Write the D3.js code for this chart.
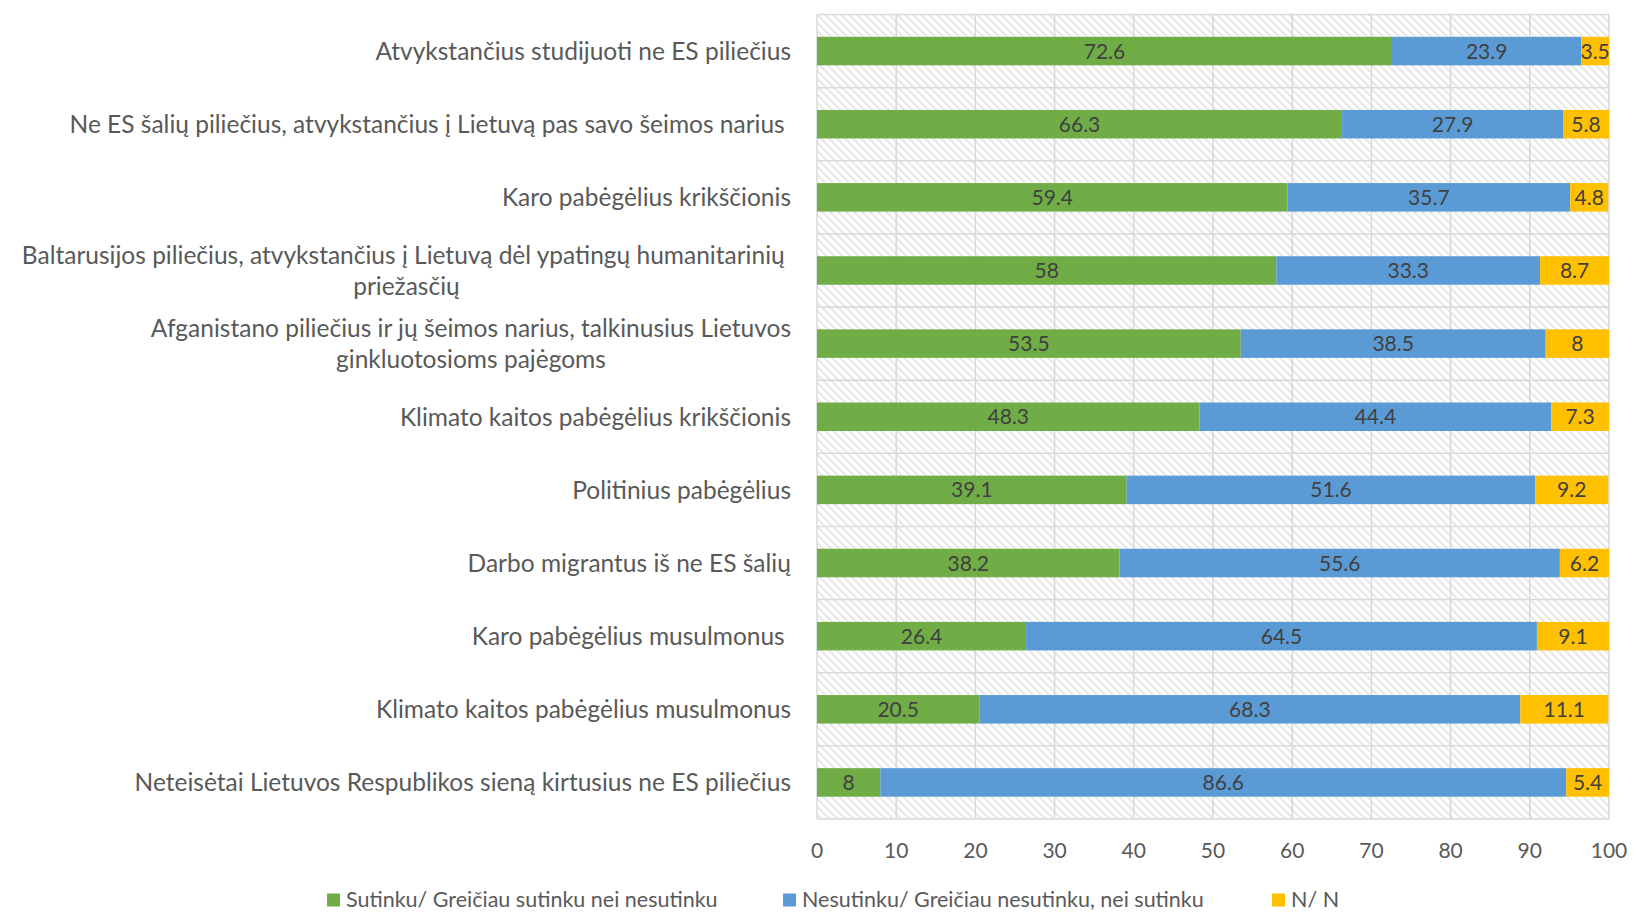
<!DOCTYPE html>
<html>
<head>
<meta charset="utf-8">
<script src="https://cdn.jsdelivr.net/npm/d3@7"></script>
<style>
  body { margin: 0; background: #fff; }
  svg text { font-family: Lato, "Open Sans", sans-serif; }
</style>
</head>
<body>
<div id="chart"></div>
<script>
// categories, top to bottom ("\n" = line break in label)
var categories = [
  "Atvykstančius studijuoti ne ES piliečius",
  "Ne ES šalių piliečius, atvykstančius į Lietuvą pas savo šeimos narius ",
  "Karo pabėgėlius krikščionis",
  "Baltarusijos piliečius, atvykstančius į Lietuvą dėl ypatingų humanitarinių \npriežasčių",
  "Afganistano piliečius ir jų šeimos narius, talkinusius Lietuvos\nginkluotosioms pajėgoms",
  "Klimato kaitos pabėgėlius krikščionis",
  "Politinius pabėgėlius",
  "Darbo migrantus iš ne ES šalių",
  "Karo pabėgėlius musulmonus ",
  "Klimato kaitos pabėgėlius musulmonus",
  "Neteisėtai Lietuvos Respublikos sieną kirtusius ne ES piliečius"
];
var agree    = [72.6, 66.3, 59.4, 58, 53.5, 48.3, 39.1, 38.2, 26.4, 20.5, 8];
var disagree = [23.9, 27.9, 35.7, 33.3, 38.5, 44.4, 51.6, 55.6, 64.5, 68.3, 86.6];
var noAnswer = [3.5, 5.8, 4.8, 8.7, 8, 7.3, 9.2, 6.2, 9.1, 11.1, 5.4];

var seriesNames = ["Sutinku/ Greičiau sutinku nei nesutinku",
                   "Nesutinku/ Greičiau nesutinku, nei sutinku",
                   "N/ N"];
var seriesColors = ["#70AD47", "#5B9BD5", "#FFC000"];
var xTicks = [0, 10, 20, 30, 40, 50, 60, 70, 80, 90, 100];

// boilerplate
var W = 1633, H = 914;
var margin = { top: 14.5, right: 24, bottom: 95, left: 817 };
var width = W - margin.left - margin.right,
    height = H - margin.top - margin.bottom;

var svg = d3.select("#chart").append("svg")
  .attr("width", W).attr("height", H);

// hatch pattern for plot background
var defs = svg.append("defs");
var pat = defs.append("pattern")
  .attr("id", "hatch")
  .attr("patternUnits", "userSpaceOnUse")
  .attr("width", 8).attr("height", 8);
pat.append("rect").attr("width", 8).attr("height", 8).attr("fill", "#fff");
pat.append("path")
  .attr("d", "M-2,-2 L10,10 M-2,6 L2,10 M6,-2 L10,2")
  .attr("stroke", "#e3e3e3").attr("stroke-width", 1.8);

var g = svg.append("g")
  .attr("transform", "translate(" + margin.left + "," + margin.top + ")");

var table = categories.map(function(c, i) {
  return { cat: c, vals: [agree[i], disagree[i], noAnswer[i]] };
});

var x = d3.scaleLinear().domain([0, 100]).range([0, width]);
var y = d3.scaleBand()
  .domain(categories)
  .range([0, height])
  .paddingInner(0.61)
  .paddingOuter(0.305);

g.append("rect")
  .attr("width", width).attr("height", height)
  .attr("fill", "url(#hatch)");

// gridlines
var gridColor = "#d9d9d9";
g.selectAll(".vgrid")
  .data(xTicks)
  .enter().append("line")
  .attr("x1", d => x(d)).attr("x2", d => x(d))
  .attr("y1", 0).attr("y2", height)
  .attr("stroke", gridColor).attr("stroke-width", 1.5);

var rowEdges = [0].concat(categories.map(c => y(c) + y.bandwidth() + y.step() * y.paddingInner() / 2));
g.selectAll(".hgrid")
  .data(rowEdges)
  .enter().append("line")
  .attr("x1", 0).attr("x2", width)
  .attr("y1", d => d).attr("y2", d => d)
  .attr("stroke", gridColor).attr("stroke-width", 1.5);

// stacked bars
var rows = g.selectAll(".row")
  .data(table)
  .enter().append("g")
  .attr("transform", d => "translate(0," + y(d.cat) + ")");

rows.each(function(d) {
  var acc = 0;
  var segs = d.vals.map(function(v, k) {
    var s = { start: acc, val: v, k: k };
    acc += v;
    return s;
  });
  var row = d3.select(this);
  row.selectAll("rect")
    .data(segs)
    .enter().append("rect")
    .attr("x", s => x(s.start))
    .attr("width", s => x(s.start + s.val) - x(s.start))
    .attr("height", y.bandwidth())
    .attr("fill", s => seriesColors[s.k]);
  row.selectAll("text")
    .data(segs)
    .enter().append("text")
    .attr("x", s => x(s.start + s.val / 2))
    .attr("y", y.bandwidth() / 2)
    .attr("dy", "0.36em")
    .attr("text-anchor", "middle")
    .attr("font-size", 21)
    .attr("fill", "#404040")
    .text(s => s.val);
});

// category labels
var catLabels = g.selectAll(".cat")
  .data(categories)
  .enter().append("text")
  .attr("class", "cat")
  .attr("font-size", 24.5)
  .attr("fill", "#595959")
  .attr("text-anchor", "middle")
  .style("white-space", "pre")
  .attr("transform", d => "translate(-26," + (y(d) + y.bandwidth() / 2) + ")");

catLabels.each(function(d) {
  var lines = d.split("\n");
  var t = d3.select(this);
  var lh = 31;
  lines.forEach(function(line, i) {
    t.append("tspan")
      .attr("x", 0)
      .attr("y", (i - (lines.length - 1) / 2) * lh)
      .attr("dy", "0.36em")
      .text(line);
  });
  // right-align the centered block
  var w = this.getBBox().width;
  t.selectAll("tspan").attr("x", -w / 2);
});

// x axis labels
g.selectAll(".xt")
  .data(xTicks)
  .enter().append("text")
  .attr("x", d => x(d))
  .attr("y", height + 31)
  .attr("dy", "0.36em")
  .attr("text-anchor", "middle")
  .attr("font-size", 21)
  .attr("fill", "#595959")
  .text(d => d);

// legend
var legendX = [327, 783, 1272];
var legend = svg.selectAll(".leg")
  .data(seriesNames)
  .enter().append("g")
  .attr("transform", (d, i) => "translate(" + legendX[i] + ",900)");
legend.append("rect")
  .attr("x", 0).attr("y", -6.5)
  .attr("width", 13).attr("height", 13)
  .attr("fill", (d, i) => seriesColors[i]);
legend.append("text")
  .attr("x", 19)
  .attr("dy", "0.34em")
  .attr("font-size", 21.5)
  .attr("fill", "#595959")
  .text(d => d);
</script>
</body>
</html>
